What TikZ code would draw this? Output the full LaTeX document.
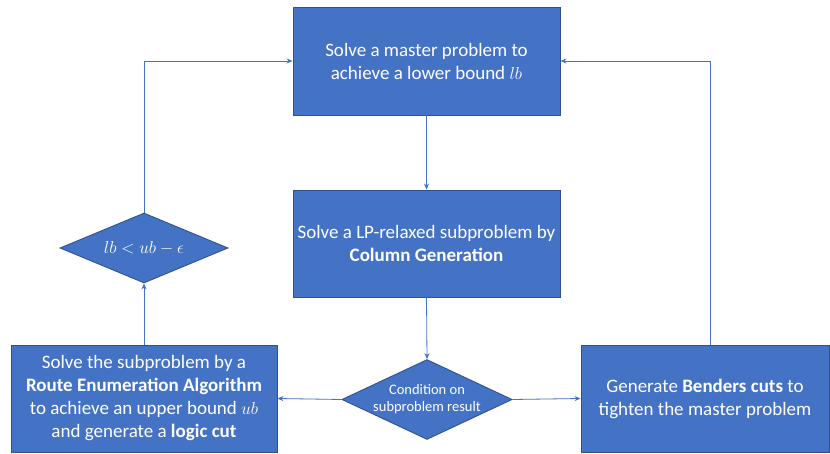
\documentclass[tikz,border=0pt]{standalone}
\usepackage{fontspec}
\setmainfont{Carlito}
\usetikzlibrary{shapes.geometric,arrows.meta}
\definecolor{boxfill}{HTML}{4472C4}
\definecolor{boxedge}{HTML}{2F528F}
\definecolor{linecol}{HTML}{4472C4}
\tikzset{
  procbox/.style={rectangle, draw=boxedge, fill=boxfill, line width=0.9pt, inner sep=0pt,
    text=white, align=center, font=\fontsize{19}{23}\selectfont},
  decbox/.style={diamond, draw=boxedge, fill=boxfill, line width=0.9pt, inner sep=0pt,
    text=white, align=center},
  conn/.style={draw=linecol, line width=0.8pt, -{Stealth[length=6pt,width=5pt]}}
}
\begin{document}
\begin{tikzpicture}[x=1pt,y=-1pt]
\path[use as bounding box, fill=white] (0,0) rectangle (830,454);
\node[procbox, minimum width=267pt, minimum height=108pt] (master) at (426.5,61)
  {Solve a master problem to\\achieve a lower bound $lb$};
\node[procbox, minimum width=267pt, minimum height=107pt] (lp) at (426.5,243.5)
  {Solve a LP-relaxed subproblem by\\\textbf{Column Generation}};
\node[decbox, aspect=2.13, minimum width=168pt, minimum height=79pt, font=\fontsize{14.5}{17}\selectfont] (cond) at (427,399.5)
  {Condition on\\subproblem result};
\node[procbox, minimum width=266pt, minimum height=107pt] (route) at (144,398.5)
  {Solve the subproblem by a\\\textbf{Route Enumeration Algorithm}\\to achieve an upper bound $ub$\\and generate a \textbf{logic cut}};
\node[procbox, minimum width=248pt, minimum height=107pt] (benders) at (705,398.5)
  {Generate \textbf{Benders cuts} to\\tighten the master problem};
\node[decbox, aspect=2.4, minimum width=168pt, minimum height=70pt, font=\fontsize{17}{20}\selectfont] (lbd) at (144,248)
  {$lb<ub-\epsilon$};
\coordinate (bt) at (710,345);
\draw[conn] (master.south) -- (lp.north);
\draw[conn] (lp.south) -- (cond.north);
\draw[conn] (cond.west) -- (route.east);
\draw[conn] (cond.east) -- (benders.west);
\draw[conn] (route.north) -- (lbd.south);
\draw[conn] (lbd.north) |- (master.west);
\draw[conn] (bt) |- (master.east);
\end{tikzpicture}
\end{document}
